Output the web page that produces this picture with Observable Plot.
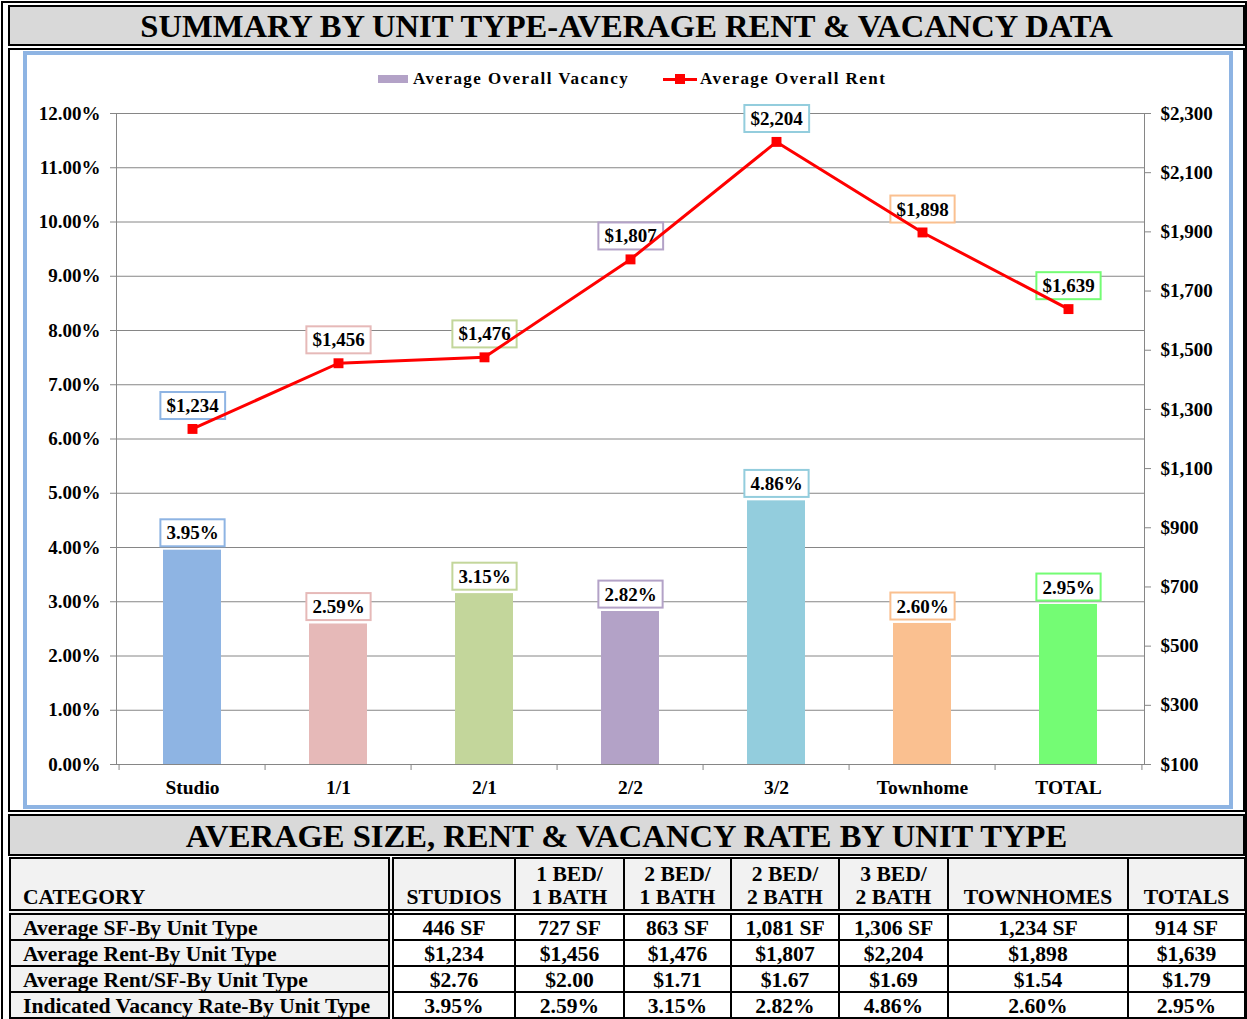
<!DOCTYPE html>
<html><head><meta charset="utf-8">
<script src="https://cdn.jsdelivr.net/npm/d3@7"></script>
<script src="https://cdn.jsdelivr.net/npm/@observablehq/plot@0.6"></script>
<style>
body{margin:0;background:#fff;font-family:"Liberation Serif","Times New Roman",serif;font-weight:bold;color:#000;}
#page{position:relative;width:1247px;height:1019px;overflow:hidden;}
.abs{position:absolute;box-sizing:border-box;}
#outer{left:1px;top:1px;width:1246px;height:1040px;border:2px solid #000;}
.titlebar{left:8px;width:1237px;border:2px solid #000;background:#d9d9d9;display:flex;align-items:center;justify-content:center;font-size:32.6px;line-height:1;padding-top:2px;}
#t1{top:5px;height:41px;}
#frame{left:8px;top:48px;width:1237px;height:764px;border:2px solid #000;background:#fff;}
#blue{left:23px;top:51px;width:1210px;height:758px;border:4px solid #8eb4e3;}
#plot{left:26px;top:56px;}
#t2{top:814px;height:42px;}
.leg{font-size:17px;letter-spacing:1.45px;line-height:20px;white-space:nowrap;}
table{position:absolute;left:9px;top:857px;width:1237px;border-collapse:collapse;table-layout:fixed;font-size:21.6px;}
td{border:2px solid #000;padding:0;text-align:center;line-height:23px;white-space:pre;background:#fff;}
tr.head td{background:#f2f2f2;vertical-align:bottom;border-bottom:6px double #000;height:50px;padding-bottom:0px;}
tr.row td{height:22px;line-height:22px;padding-top:2px;}
td.cat{text-align:left;padding-left:12px;background:#f2f2f2;border-right:6px double #000;}
</style>
</head><body>
<div id="page">
  <div class="abs" id="outer"></div>
  <div class="abs titlebar" id="t1">SUMMARY BY UNIT TYPE-AVERAGE RENT &amp; VACANCY DATA</div>
  <div class="abs" id="frame"></div>
  <div class="abs" id="plot"></div>
  <div class="abs" id="blue"></div>
  <div class="abs" style="left:378px;top:75px;width:30px;height:8px;background:#b3a2c7"></div>
  <div class="abs leg" style="left:413px;top:69px">Average Overall Vacancy</div>
  <div class="abs" style="left:663px;top:78px;width:34px;height:3px;background:#ff0000"></div>
  <div class="abs" style="left:675px;top:74px;width:10px;height:10px;background:#ff0000"></div>
  <div class="abs leg" style="left:700px;top:69px">Average Overall Rent</div>
  <div class="abs titlebar" id="t2">AVERAGE SIZE, RENT &amp; VACANCY RATE BY UNIT TYPE</div>
  <table id="tbl"></table>
</div>
<script>
// ---- chart data ----
const categories = ["Studio", "1/1", "2/1", "2/2", "3/2", "Townhome", "TOTAL"];
const vacancy = [3.95, 2.59, 3.15, 2.82, 4.86, 2.60, 2.95];        // percent
const rent = [1234, 1456, 1476, 1807, 2204, 1898, 1639];            // dollars
const barColors = ["#8eb4e3", "#e6b9b8", "#c3d69b", "#b3a2c7", "#93cddd", "#fac090", "#74fc74"];
const vacTicks = [0,1,2,3,4,5,6,7,8,9,10,11,12];
const rentTicks = [100,300,500,700,900,1100,1300,1500,1700,1900,2100,2300];

// ---- table data ----
const tableHeaders = ["CATEGORY", "STUDIOS", "1 BED/\n1 BATH", "2 BED/\n1 BATH", "2 BED/\n2 BATH", "3 BED/\n2 BATH", "TOWNHOMES", "TOTALS"];
const tableRowLabels = ["Average SF-By Unit Type", "Average Rent-By Unit Type", "Average Rent/SF-By Unit Type", "Indicated Vacancy Rate-By Unit Type"];
const sfRow = ["446 SF", "727 SF", "863 SF", "1,081 SF", "1,306 SF", "1,234 SF", "914 SF"];
const rentRow = ["$1,234", "$1,456", "$1,476", "$1,807", "$2,204", "$1,898", "$1,639"];
const rentSfRow = ["$2.76", "$2.00", "$1.71", "$1.67", "$1.69", "$1.54", "$1.79"];
const vacRow = ["3.95%", "2.59%", "3.15%", "2.82%", "4.86%", "2.60%", "2.95%"];
const colWidths = [381, 124, 109, 107, 108, 109, 180, 117];

// map rent onto the vacancy (left) scale: $100..$2,300 <-> 0..12%
const toY = r => (r - 100) / 2200 * 12;
const fromY = y => y / 12 * 2200 + 100;

const data = categories.map((c, i) => ({cat: c, vac: vacancy[i], rent: rent[i], color: barColors[i]}));

const W = 1202, H = 750, mL = 90, mR = 84, mT = 57, mB = 42;
const band = (W - mL - mR) / categories.length;
const grid = "#868686";
const fmtMoney = d3.format("$,");

const chart = Plot.plot({
  width: W, height: H,
  marginLeft: mL, marginRight: mR, marginTop: mT, marginBottom: mB,
  style: {fontFamily: "'Liberation Serif','Times New Roman',serif", fontSize: "19px", fontWeight: "bold", background: "none", color: "#000", overflow: "visible"},
  x: {domain: categories, padding: 0},
  y: {domain: [0, 12]},
  color: {type: "identity"},
  marks: [
    Plot.gridY(vacTicks, {stroke: grid, strokeOpacity: 1}),
    Plot.barY(data, {x: "cat", y: "vac", fill: "color", insetLeft: 44, insetRight: 44}),
    Plot.frame({stroke: grid}),
    Plot.ruleX(categories, {x: d => d, y1: 0, y2: -6 / 54.25, dx: -band / 2, stroke: grid}),
    Plot.ruleX(categories.slice(-1), {x: d => d, y1: 0, y2: -6 / 54.25, dx: band / 2, stroke: grid}),
    Plot.axisY(vacTicks, {anchor: "left", tickSize: 6, tickPadding: 10, stroke: grid, fill: "#000", label: null, tickFormat: d => d.toFixed(2) + "%"}),
    Plot.axisY(rentTicks.map(toY), {anchor: "right", tickSize: 6, tickPadding: 10, stroke: grid, fill: "#000", label: null, tickFormat: d => fmtMoney(Math.round(fromY(d)))}),
    Plot.axisX({tickSize: 0, tickPadding: 16, label: null, fill: "#000", fontSize: 19.5}),
    Plot.text(data, {x: "cat", y: "vac", text: d => d.vac.toFixed(2) + "%", dy: -17, fontSize: 19, fontWeight: "bold", fill: "#000"}),
    Plot.text(data, {x: "cat", y: d => toY(d.rent), text: d => fmtMoney(d.rent), dy: -23, fontSize: 19, fontWeight: "bold", fill: "#000"}),
    Plot.line(data, {x: "cat", y: d => toY(d.rent), stroke: "#ff0000", strokeWidth: 3}),
    Plot.dot(data, {x: "cat", y: d => toY(d.rent), symbol: "square", r: 5.6, fill: "#ff0000"})
  ]
});
document.getElementById("plot").append(chart);

// label boxes behind data labels
const ns = "http://www.w3.org/2000/svg";
chart.querySelectorAll('g[aria-label="text"]').forEach(g => {
  g.querySelectorAll("text").forEach((t, i) => {
    const bb = t.getBBox();
    const r = document.createElementNS(ns, "rect");
    r.setAttribute("x", bb.x - 6);
    r.setAttribute("y", bb.y - 3);
    r.setAttribute("width", bb.width + 12);
    r.setAttribute("height", bb.height + 6);
    const tr = t.getAttribute("transform");
    if (tr) r.setAttribute("transform", tr);
    r.setAttribute("fill", "#fff");
    r.setAttribute("stroke", barColors[i]);
    r.setAttribute("stroke-width", 2);
    g.insertBefore(r, t);
  });
});

// table
const tbl = document.getElementById("tbl");
const cg = document.createElement("colgroup");
colWidths.forEach(w => { const c = document.createElement("col"); c.style.width = w + "px"; cg.appendChild(c); });
tbl.appendChild(cg);
const hr = document.createElement("tr"); hr.className = "head";
tableHeaders.forEach((h, i) => { const td = document.createElement("td"); td.textContent = h; if (i === 0) td.className = "cat"; hr.appendChild(td); });
tbl.appendChild(hr);
[sfRow, rentRow, rentSfRow, vacRow].forEach((row, r) => {
  const tr = document.createElement("tr"); tr.className = "row";
  const td0 = document.createElement("td"); td0.className = "cat"; td0.textContent = tableRowLabels[r]; tr.appendChild(td0);
  row.forEach(v => { const td = document.createElement("td"); td.textContent = v; tr.appendChild(td); });
  tbl.appendChild(tr);
});
</script>
</body></html>
